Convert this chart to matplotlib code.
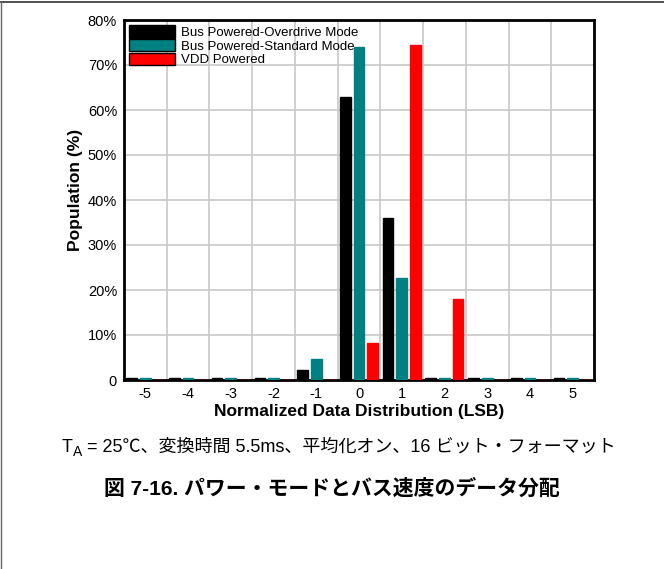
import matplotlib
matplotlib.use('Agg')
import matplotlib.pyplot as plt
import numpy as np

# data (tiny stubs at the baseline for empty codes)
codes = [-5, -4, -3, -2, -1, 0, 1, 2, 3, 4, 5]
overdrive = [0.4, 0.4, 0.4, 0.4, 2.2, 63.0, 36.1, 0.4, 0.4, 0.4, 0.4]
standard = [0.4, 0.4, 0.4, 0.4, 4.6, 74.1, 22.7, 0.4, 0.4, 0.4, 0.4]
vdd = [0.1, 0.1, 0.1, 0.1, 0.1, 8.2, 74.5, 17.9, 0.1, 0.1, 0.1]
series_names = ['Bus Powered-Overdrive Mode', 'Bus Powered-Standard Mode', 'VDD Powered']
x_labels = ['-5', '-4', '-3', '-2', '-1', '0', '1', '2', '3', '4', '5']
y_ticks = [0, 10, 20, 30, 40, 50, 60, 70, 80]
y_labels = ['0', '10%', '20%', '30%', '40%', '50%', '60%', '70%', '80%']

plt.rcParams['font.family'] = ['Liberation Sans', 'Noto Sans CJK JP', 'DejaVu Sans']

fig = plt.figure(figsize=(6.64, 5.69), dpi=100)
ax = fig.add_axes([124/664, 1-380/569, 470/664, 360/569])

x = np.array(codes)
w = 0.25
colors = ['#000000', '#008080', '#ff0000']
for vals, off, c, name in zip([overdrive, standard, vdd], [-0.32, 0, 0.32], colors, series_names):
    ax.bar(x + off, vals, w, color=c, edgecolor=c, linewidth=1.0, label=name, zorder=3)

ax.set_xlim(-5.5, 5.5)
ax.set_ylim(0, 80)
ax.set_xticks(codes)
ax.set_xticklabels(x_labels)
ax.set_xticks(np.arange(-4.5, 5.0, 1.0), minor=True)
ax.set_yticks(y_ticks)
ax.set_yticklabels(y_labels)
ax.tick_params(axis='both', which='both', length=0, labelsize=10.5, pad=5)
ax.grid(True, axis='x', which='minor', color='#c8c8c8', lw=1.2, zorder=0)
ax.grid(True, axis='y', which='major', color='#c8c8c8', lw=1.2, zorder=0)
for s in ax.spines.values():
    s.set_linewidth(2)
    s.set_zorder(2)

ax.set_xlabel('Normalized Data Distribution (LSB)', fontsize=12.5, fontweight='bold', labelpad=2)
ax.set_ylabel('Population (%)', fontsize=12.5, fontweight='bold')
ax.yaxis.set_label_coords(-0.087, 0.528)

h, l = ax.get_legend_handles_labels()
leg = ax.legend(h, l, loc='upper left', bbox_to_anchor=(0.0, 1.0), frameon=False,
                fontsize=9.5, handlelength=3.5, handleheight=1.05, labelspacing=0.0,
                handletextpad=0.4, borderaxespad=0.4, borderpad=0.0)
for p in leg.get_patches():
    p.set_edgecolor('black')
    p.set_linewidth(1)

# subtitle with subscript
t1 = fig.text(62/664, 1-452/569, 'T', fontsize=13, va='baseline', ha='left')
t2 = ax.annotate('A', xy=(1, 0), xycoords=t1, fontsize=10, va='baseline', ha='left',
                 annotation_clip=False)
t3 = ax.annotate(' = 25℃、変換時間 5.5ms、平均化オン、16 ビット・フォーマット',
                 xy=(1, 0), xycoords=(t2, t1), fontsize=13, va='bottom', ha='left',
                 annotation_clip=False)

fig.text(0.5, 1-489/569, '図 7-16. パワー・モードとバス速度のデータ分配', fontsize=15,
         fontweight='bold', ha='center', va='center')

# page border lines
fig.add_artist(plt.Line2D([0, 1], [1-2/569, 1-2/569], color='#333333', lw=1.2, transform=fig.transFigure))
fig.add_artist(plt.Line2D([1/664, 1/664], [0, 1-2/569], color='#666666', lw=1.0, transform=fig.transFigure))

fig.savefig('out.png', dpi=100)
